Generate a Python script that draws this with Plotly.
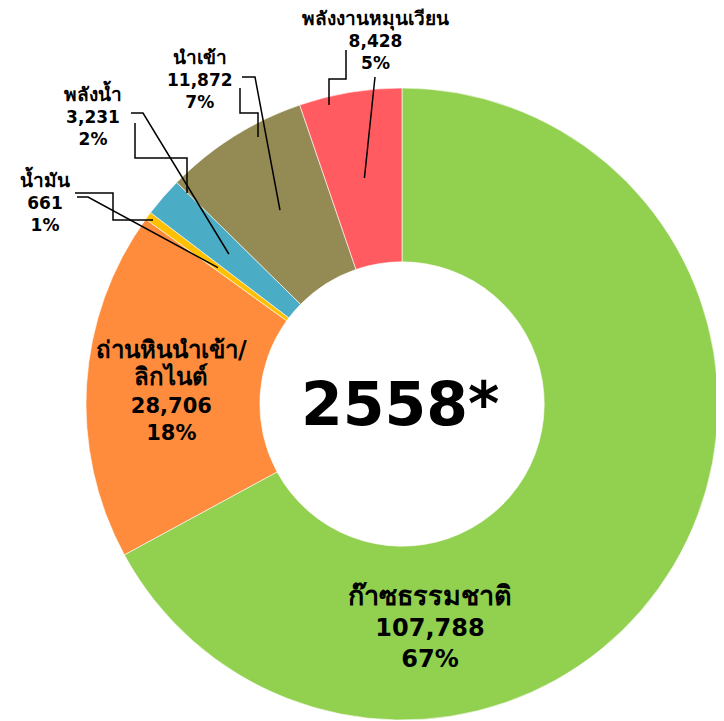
import math
import plotly.graph_objects as go

# data
labels = ["ก๊าซธรรมชาติ", "ถ่านหินนำเข้า/<br>ลิกไนต์", "น้ำมัน", "พลังน้ำ", "นำเข้า", "พลังงานหมุนเวียน"]
values = [107788, 28706, 661, 3231, 11872, 8428]
pct_labels = ["67%", "18%", "1%", "2%", "7%", "5%"]
colors = ["#92D050", "#FF8C3C", "#FFC000", "#4BACC6", "#948A54", "#FF5B61"]
center_text = "2558*"

# page body has an 8px margin, so the figure starts at (8, 8) of the window
OFF = 8
W, H = 724 - OFF, 721 - OFF
CX, CY, R = 402, 404, 316
HOLE = 0.45
FONT = "Tahoma, 'DejaVu Sans', 'Noto Sans', sans-serif"


def px(x):
    return (x - OFF) / W


def py(y):
    return 1 - (y - OFF) / H


fig = go.Figure()
fig.add_trace(go.Pie(
    labels=labels, values=values, sort=False, direction="clockwise",
    rotation=0, hole=HOLE, textinfo="none", hoverinfo="label+value+percent",
    marker=dict(colors=colors, line=dict(color="white", width=0.6)),
    domain=dict(x=[px(CX - R), min(1, px(CX + R))], y=[max(0, py(CY + R)), py(CY - R)]),
    showlegend=False,
))

# label placement (window pixel centres) and font sizes
label_pos = [(430, 626), (171, 391), (45, 200), (93, 114), (200, 79), (375, 40)]
label_size = [24, 21, 17, 17, 17, 17]

annotations = []
for lab, v, p, (x, y), s in zip(labels, values, pct_labels, label_pos, label_size):
    thai = "<br>".join(f"<span style='font-size:{round(s * 1.12)}px'>{part}</span>"
                       for part in lab.split("<br>"))
    annotations.append(dict(
        x=px(x), y=py(y), xref="paper", yref="paper", showarrow=False,
        text=f"{thai}<br>{v:,}<br>{p}", align="center",
        xanchor="center", yanchor="middle",
        font=dict(family=FONT, size=s, color="black", weight="bold"),
    ))
annotations.append(dict(
    x=px(CX - 2), y=py(CY), xref="paper", yref="paper", showarrow=False,
    text=center_text, xanchor="center", yanchor="middle",
    font=dict(family=FONT, size=60, color="black", weight="bold"),
))

# leader lines: from label to middle of ring at slice mid-angle
total = sum(values)
mids = []
acc = 0
for v in values:
    mids.append((acc + v / 2) / total * 2 * math.pi)
    acc += v
r_mid = R * (1 + HOLE) / 2

starts = {
    2: [(77, 197), (88, 197)],
    3: [(131, 113), (143, 113)],
    4: [(242, 77), (255, 77)],
    5: [(375, 77)],
}
elbows = [
    [(75, 193), (113, 193), (113, 220), (153, 220)],
    [(135, 123), (135, 158), (187, 158), (187, 193)],
    [(240, 88), (240, 113), (258, 113), (258, 137)],
    [(346, 50), (346, 79), (329, 79), (329, 105)],
]

shapes = []
for i, pts in starts.items():
    end = (CX + r_mid * math.sin(mids[i]), CY - r_mid * math.cos(mids[i]))
    pts = pts + [end]
    path = "M " + " L ".join(f"{px(a)},{py(b)}" for a, b in pts)
    shapes.append(dict(type="path", path=path, xref="paper", yref="paper",
                       line=dict(color="black", width=1.5)))
for pts in elbows:
    path = "M " + " L ".join(f"{px(a)},{py(b)}" for a, b in pts)
    shapes.append(dict(type="path", path=path, xref="paper", yref="paper",
                       line=dict(color="black", width=1.5)))

fig.update_layout(
    width=W, height=H, margin=dict(l=0, r=0, t=0, b=0),
    paper_bgcolor="white", plot_bgcolor="white",
    annotations=annotations, shapes=shapes,
)

fig.write_html("out.html")
